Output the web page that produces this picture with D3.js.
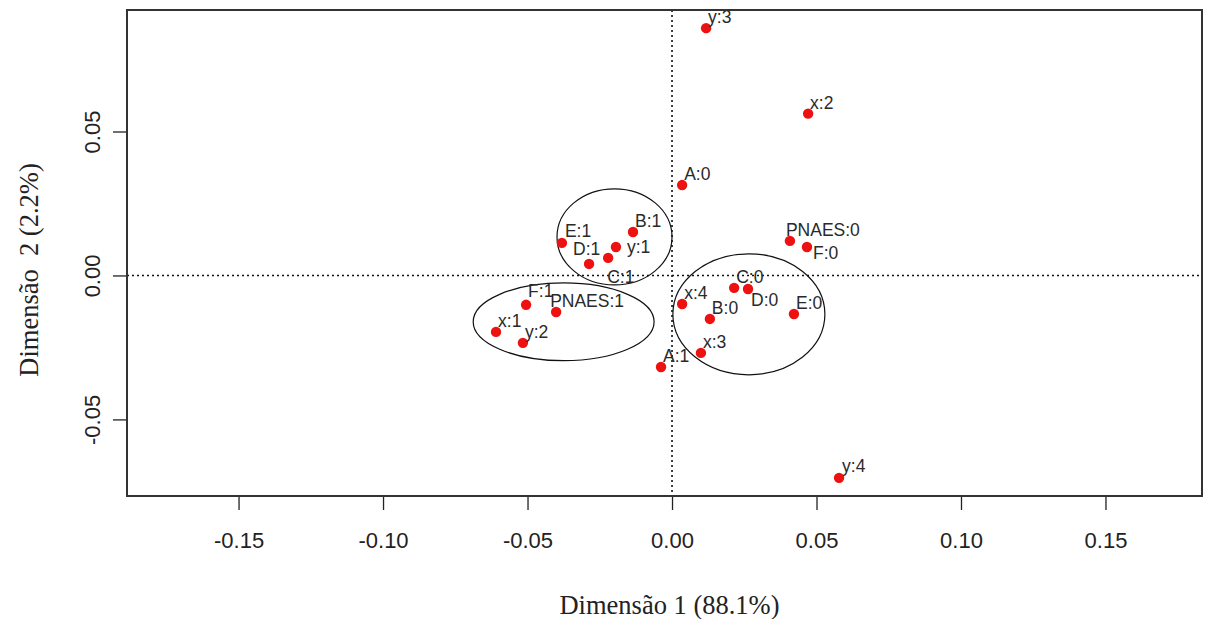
<!DOCTYPE html>
<html>
<head>
<meta charset="utf-8">
<script src="https://cdn.jsdelivr.net/npm/d3@7"></script>
<style>
  html, body { margin: 0; padding: 0; background: #fff; }
  svg { display: block; }
  .tick text { font-family: "Liberation Sans", Arial, sans-serif; }
</style>
</head>
<body>
<svg id="chart" width="1209" height="619"></svg>
<script>
// Category labels of the correspondence analysis map
const labels = ["y:3", "x:2", "A:0", "PNAES:0", "F:0", "B:1", "E:1", "y:1", "C:1", "D:1",
                "C:0", "D:0", "x:4", "F:1", "PNAES:1", "E:0", "B:0", "x:1", "y:2", "x:3", "A:1", "y:4"];
// Coordinates on dimension 1
const dim1 = [0.0118, 0.0471, 0.0035, 0.0408, 0.0467, -0.0135, -0.0381, -0.0194, -0.0221, -0.0287,
              0.0215, 0.0263, 0.0035, -0.0505, -0.0401, 0.0422, 0.0131, -0.0609, -0.0516, 0.0100, -0.0038, 0.0578];
// Coordinates on dimension 2
const dim2 = [0.0859, 0.0562, 0.0314, 0.0120, 0.0099, 0.0151, 0.0113, 0.0099, 0.0061, 0.0040,
              -0.0043, -0.0047, -0.0099, -0.0102, -0.0127, -0.0134, -0.0151, -0.0196, -0.0234, -0.0269, -0.0318, -0.0703];

// Group ellipses: centre and semi-axes in dimension units
const ellipseCx = [-0.0199, -0.0375, 0.0266];
const ellipseCy = [0.0134, -0.0161, -0.0135];
const ellipseRx = [0.0199, 0.0313, 0.0263];
const ellipseRy = [0.0167, 0.0135, 0.0210];

// Axis ticks
const xTicks = [-0.15, -0.10, -0.05, 0.00, 0.05, 0.10, 0.15];
const yTicks = [-0.05, 0.00, 0.05];

// Label nudges (pixels) where the text does not sit at the default spot
const nudge = {
  "PNAES:0": [-4, -5], "F:0": [6, 12], "y:1": [11, 6], "C:1": [-1, 25], "D:1": [-16, -9],
  "D:0": [3, 17], "F:1": [2, -8], "PNAES:1": [-6, -5], "E:1": [3, -6], "y:4": [3, -6]
};

const svg = d3.select("#chart");
const plotL = 127, plotR = 1202, plotT = 10, plotB = 496;

const x = d3.scaleLinear().domain([-0.1886, 0.1834]).range([plotL, plotR]);
const y = d3.scaleLinear().domain([-0.0766, 0.0922]).range([plotB, plotT]);

// Plain hyphen for negative tick labels
const fmt = v => v.toFixed(2);

// Bottom axis
const gx = svg.append("g")
  .attr("transform", `translate(0,${plotB})`)
  .call(d3.axisBottom(x).tickValues(xTicks).tickFormat(fmt).tickSize(14).tickPadding(22));
gx.select(".domain").remove();
gx.selectAll(".tick line").attr("stroke", "#222").attr("stroke-width", 1.3);
gx.selectAll(".tick text").attr("font-size", 22).attr("fill", "#222");

// Left axis
const gy = svg.append("g")
  .attr("transform", `translate(${plotL},0)`)
  .call(d3.axisLeft(y).tickValues(yTicks).tickFormat(fmt).tickSize(14));
gy.select(".domain").remove();
gy.selectAll(".tick line").attr("stroke", "#222").attr("stroke-width", 1.3);
gy.selectAll(".tick text")
  .attr("font-size", 22).attr("fill", "#222")
  .attr("x", null).attr("dy", null)
  .attr("text-anchor", "middle")
  .attr("transform", "translate(-27,0) rotate(-90)")
  .attr("y", 0);

// Reference lines through the origin
svg.append("line")
  .attr("x1", x(0)).attr("x2", x(0)).attr("y1", plotT).attr("y2", plotB)
  .attr("stroke", "#111").attr("stroke-width", 1.6).attr("stroke-dasharray", "2,3");
svg.append("line")
  .attr("x1", plotL).attr("x2", plotR).attr("y1", y(0)).attr("y2", y(0))
  .attr("stroke", "#111").attr("stroke-width", 1.6).attr("stroke-dasharray", "2,3");

// Group ellipses
svg.append("g").selectAll("ellipse")
  .data(ellipseCx.map((c, i) => ({ cx: c, cy: ellipseCy[i], rx: ellipseRx[i], ry: ellipseRy[i] })))
  .join("ellipse")
  .attr("cx", d => x(d.cx))
  .attr("cy", d => y(d.cy))
  .attr("rx", d => x(d.rx) - x(0))
  .attr("ry", d => y(0) - y(d.ry))
  .attr("fill", "none").attr("stroke", "#111").attr("stroke-width", 1.2);

// Category points and their labels
const pts = labels.map((l, i) => ({ label: l, d1: dim1[i], d2: dim2[i] }));
svg.append("g").selectAll("circle")
  .data(pts).join("circle")
  .attr("cx", d => x(d.d1)).attr("cy", d => y(d.d2))
  .attr("r", 5.2).attr("fill", "#ee1111");

svg.append("g").selectAll("text")
  .data(pts).join("text")
  .attr("x", d => x(d.d1) + (nudge[d.label] ? nudge[d.label][0] : 2))
  .attr("y", d => y(d.d2) + (nudge[d.label] ? nudge[d.label][1] : -5))
  .attr("font-family", "'Liberation Sans', Arial, sans-serif")
  .attr("font-size", 17.5).attr("fill", "#2a2a2a")
  .text(d => d.label);

// Plot frame
svg.append("rect")
  .attr("x", plotL).attr("y", plotT).attr("width", plotR - plotL).attr("height", plotB - plotT)
  .attr("fill", "none").attr("stroke", "#333").attr("stroke-width", 2);

// Axis titles
svg.append("text")
  .attr("x", (plotL + plotR) / 2 + 5).attr("y", 614)
  .attr("text-anchor", "middle")
  .attr("font-family", "'Liberation Serif', 'Times New Roman', serif")
  .attr("font-size", 26.5).attr("fill", "#222")
  .text("Dimensão 1 (88.1%)");

svg.append("text")
  .attr("transform", `translate(38,${(plotT + plotB) / 2 + 17}) rotate(-90)`)
  .attr("text-anchor", "middle")
  .attr("font-family", "'Liberation Serif', 'Times New Roman', serif")
  .attr("font-size", 26.5).attr("fill", "#222")
  .style("white-space", "pre")
  .text("Dimensão  2 (2.2%)");
</script>
</body>
</html>
